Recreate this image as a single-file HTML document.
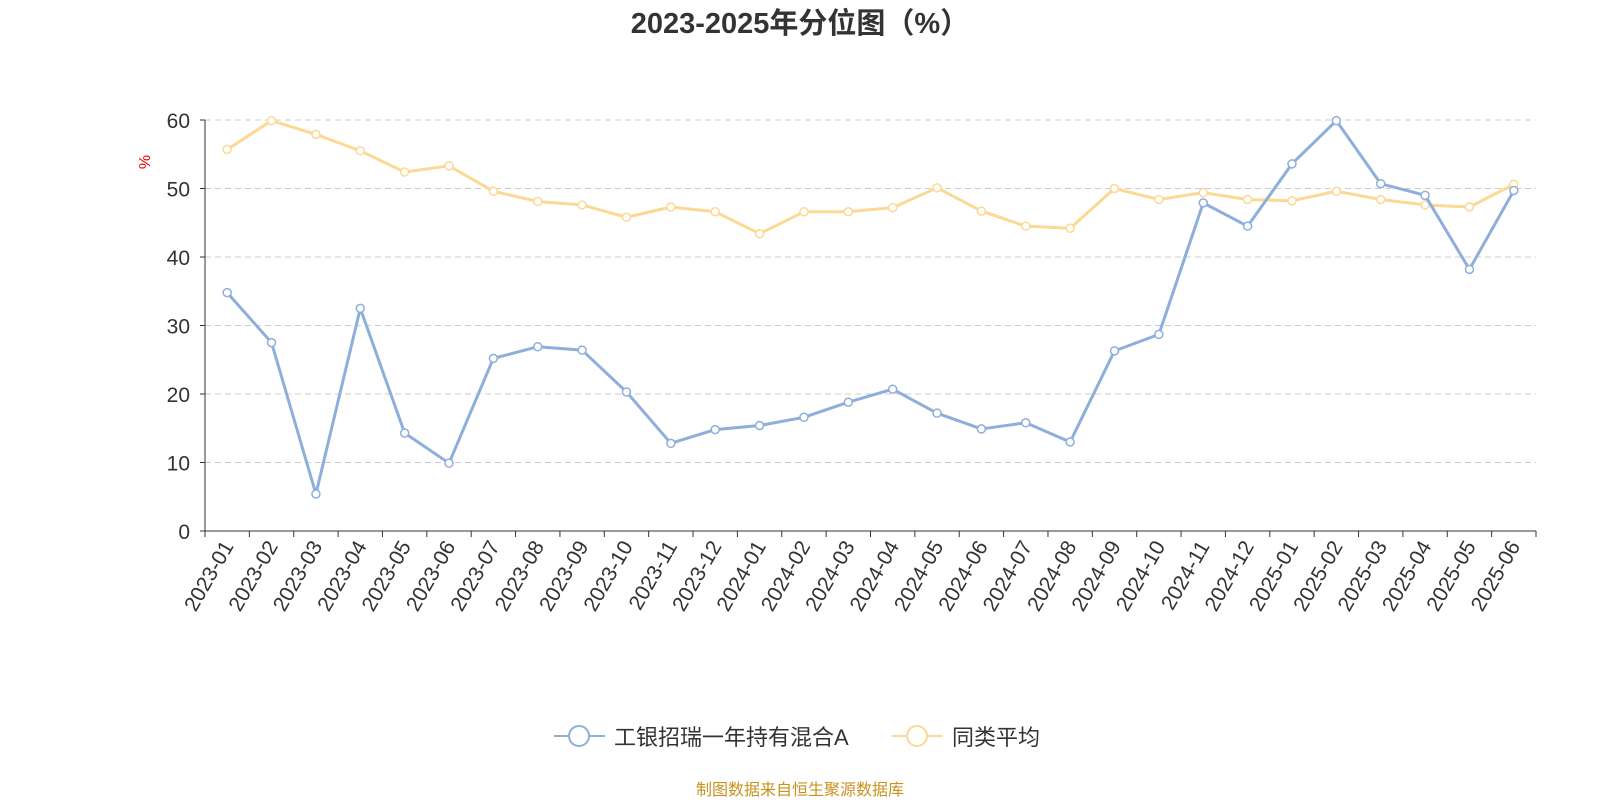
<!DOCTYPE html>
<html><head><meta charset="utf-8"><style>
body{margin:0;background:#fff}
svg text{font-family:"Liberation Sans","Noto Sans CJK SC",sans-serif}
</style></head><body>
<svg id="c" width="1600" height="800">
<text x="800" y="33" text-anchor="middle" font-size="29" font-weight="bold" fill="#333">2023-2025年分位图（%）</text>
<text x="0" y="0" transform="translate(150,162) rotate(-90)" text-anchor="middle" font-size="16" fill="#e00">%</text>
<g id="grid"></g><g id="axes"></g><g id="series"></g>
<g>
<g><line x1="554" y1="736" x2="605" y2="736" stroke="#8eaedb" stroke-width="2"/><circle cx="579" cy="736" r="10" fill="#fff" stroke="#8eaedb" stroke-width="2"/><text x="614" y="745" font-size="22" fill="#333">工银招瑞一年持有混合A</text></g>
<g><line x1="892" y1="736" x2="943" y2="736" stroke="#fbd995" stroke-width="2"/><circle cx="917" cy="736" r="10" fill="#fff" stroke="#fbd995" stroke-width="2"/><text x="952" y="745" font-size="22" fill="#333">同类平均</text></g>
</g>
<text x="800" y="795" text-anchor="middle" font-size="16" fill="#c8921e">制图数据来自恒生聚源数据库</text>
</svg>
<script>
const categories=["2023-01","2023-02","2023-03","2023-04","2023-05","2023-06","2023-07","2023-08","2023-09","2023-10","2023-11","2023-12","2024-01","2024-02","2024-03","2024-04","2024-05","2024-06","2024-07","2024-08","2024-09","2024-10","2024-11","2024-12","2025-01","2025-02","2025-03","2025-04","2025-05","2025-06"];
const fundValues=[34.8,27.5,5.4,32.5,14.3,9.9,25.2,26.9,26.4,20.3,12.8,14.8,15.4,16.6,18.8,20.7,17.2,14.9,15.8,13.0,26.3,28.7,47.9,44.5,53.6,59.9,50.7,49.0,38.2,49.7];
const avgValues=[55.7,59.9,57.9,55.5,52.4,53.3,49.6,48.1,47.6,45.8,47.3,46.6,43.4,46.6,46.6,47.2,50.1,46.7,44.5,44.2,50.0,48.4,49.4,48.4,48.2,49.6,48.4,47.6,47.3,50.6];
const yTicks=[0,10,20,30,40,50,60];
const NS="http://www.w3.org/2000/svg";
const X0=205,X1=1536,Y0=531,Y60=120;
const bw=(X1-X0)/categories.length;
const xs=i=>X0+bw*(i+0.5);
const ys=v=>Y0-(Y0-Y60)*v/60;
function mk(t,a,p){const e=document.createElementNS(NS,t);for(const k in a)e.setAttribute(k,a[k]);p.appendChild(e);return e;}
const grid=document.getElementById('grid'),axes=document.getElementById('axes'),ser=document.getElementById('series');
yTicks.forEach(v=>{
 if(v>0){const l=mk('line',{x1:X0,x2:X1,y1:ys(v),y2:ys(v),stroke:'#ccc','stroke-dasharray':'6,4'},grid);
 
 }
 const t=mk('text',{x:X0-15,y:ys(v)+8,'text-anchor':'end','font-size':21,fill:'#333'},axes);t.textContent=v;
 
 
 mk('line',{x1:X0-5,x2:X0,y1:ys(v),y2:ys(v),stroke:'#333'},axes);
});
const ya=mk('line',{x1:X0,x2:X0,y1:Y60,y2:Y0,stroke:'#333'},axes);


const xa=mk('line',{x1:X0,x2:X1,y1:Y0,y2:Y0,stroke:'#333'},axes);


for(let i=0;i<=categories.length;i++)mk('line',{x1:X0+bw*i,x2:X0+bw*i,y1:Y0,y2:Y0+6,stroke:'#333'},axes);
categories.forEach((c,i)=>{
 const t=mk('text',{transform:`translate(${xs(i)+7},${Y0+15}) rotate(-60)`,'text-anchor':'end','font-size':21,fill:'#333'},axes);
 t.textContent=c;
 
 
});
function series(vals,color,name){
 const g=mk('g',{},ser);
 
 
 mk('polyline',{points:vals.map((v,i)=>xs(i)+','+ys(v)).join(' '),fill:'none',stroke:color,'stroke-width':3,'stroke-linejoin':'round'},g);
 vals.forEach((v,i)=>{const p=mk('circle',{cx:xs(i),cy:ys(v),r:4,fill:'#fff',stroke:color,'stroke-width':1.5},g);
 
 });
}
series(avgValues,'#fbd995','average-series');
series(fundValues,'#8eaedb','fund-series');
</script>
</body></html>
